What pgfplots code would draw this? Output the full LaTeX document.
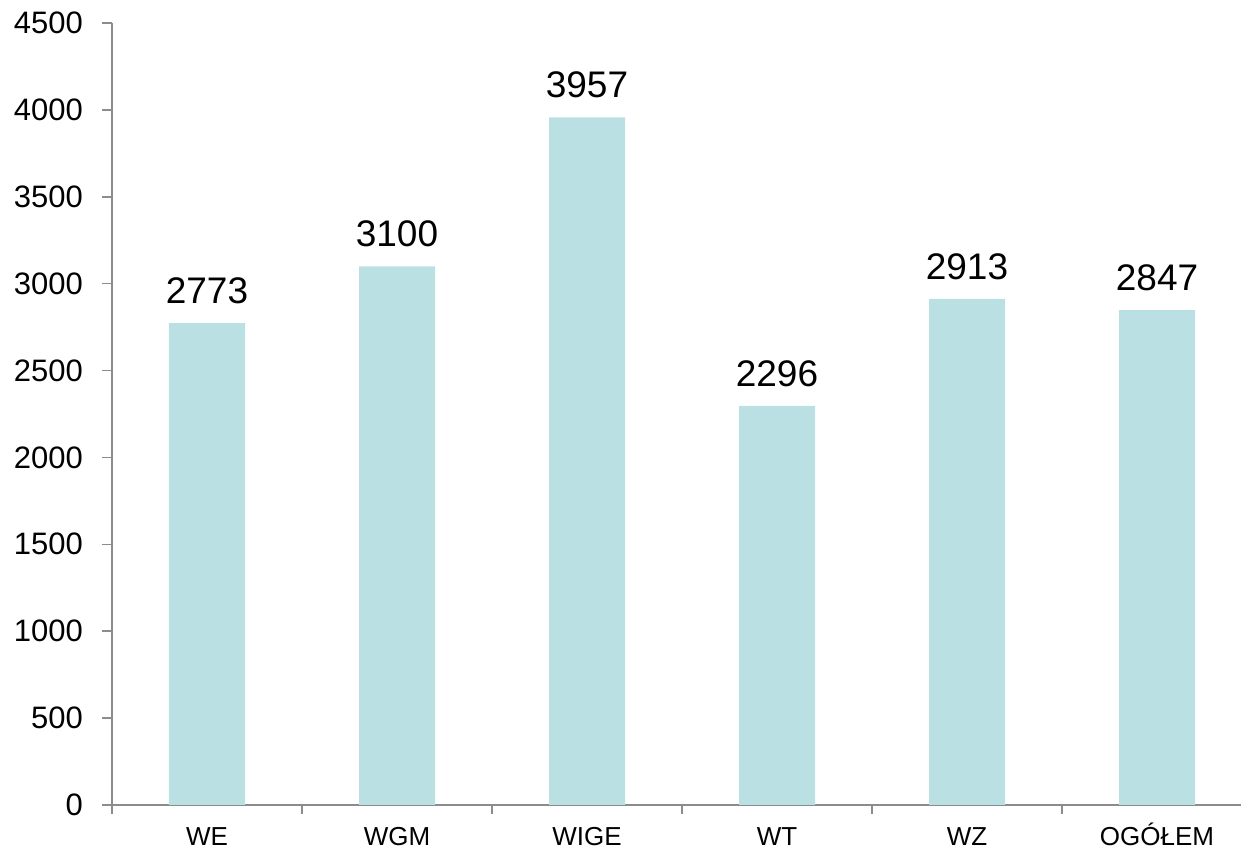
\documentclass[border=0pt]{standalone}
\usepackage{fontspec}
\setmainfont{Liberation Sans}
\usepackage{pgfplots}
\pgfplotsset{compat=1.18}
\definecolor{barc}{RGB}{186,224,227}
\definecolor{axc}{RGB}{140,140,140}
\begin{document}
\begin{tikzpicture}
\begin{axis}[
  name=ax,
  scale only axis,
  width=570pt, height=391pt,
  xmin=-0.5, xmax=5.5,
  ymin=0, ymax=4500,
  ytick={0,500,...,4500},
  xtick={0,1,2,3,4,5},
  xticklabels={WE,WGM,WIGE,WT,WZ,OGÓŁEM},
  minor xtick={-0.5,0.5,...,4.5},
  major x tick style={draw=none},
  tick align=outside,
  major tick length=5pt,
  minor tick length=4.5pt,
  tick style={axc, line width=0.8pt},
  axis x line*=bottom,
  axis y line*=left,
  axis line style={axc, line width=0.8pt, -},
  /pgf/number format/assume math mode=true,
  /pgf/number format/set thousands separator={},
  yticklabel style={font=\fontsize{15.5pt}{18pt}\selectfont, xshift=-6pt},
  xticklabel style={font=\fontsize{13pt}{16pt}\selectfont, anchor=base, inner sep=0pt, yshift=-15.5pt},
  clip=false,
]
\addplot[ybar, bar width=38pt, fill=barc, draw=none,
  nodes near coords,
  every node near coord/.append style={font=\fontsize{18.5pt}{21pt}\selectfont, black, yshift=6pt, /pgf/number format/fixed, /pgf/number format/set thousands separator={}}]
  coordinates {(0,2773) (1,3100) (2,3957) (3,2296) (4,2913) (5,2847)};
\end{axis}
\pgfresetboundingbox
\path ([shift={(-56pt,-22pt)}]ax.south west) rectangle ([shift={(-5.5pt,11.5pt)}]ax.north east);
\end{tikzpicture}
\end{document}
